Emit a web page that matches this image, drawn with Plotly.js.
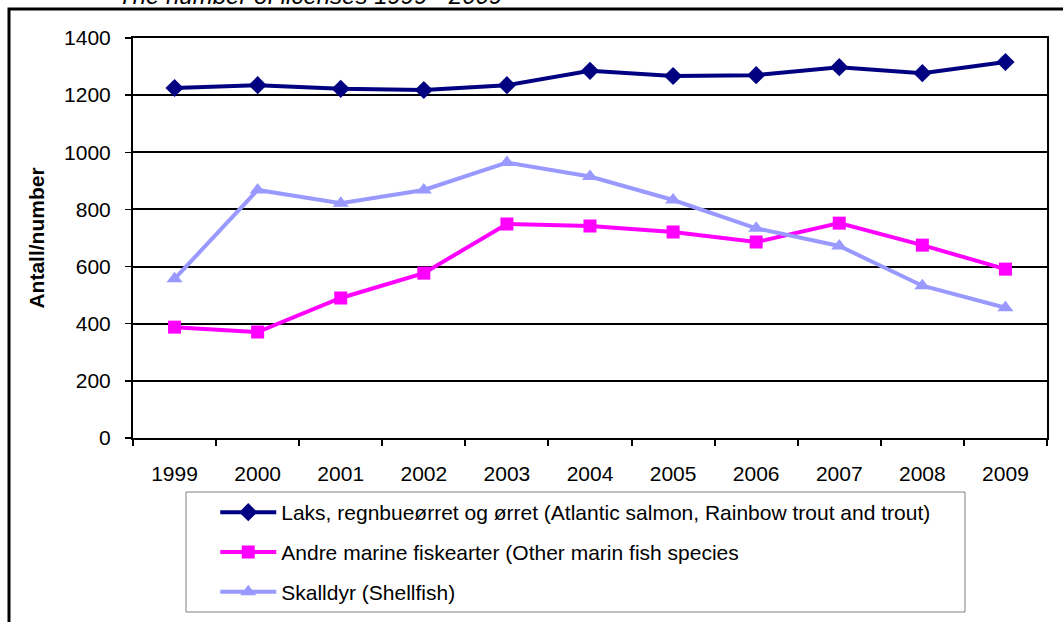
<!DOCTYPE html>
<html>
<head>
<meta charset="utf-8">
<script src="https://cdn.plot.ly/plotly-3.0.1.min.js"></script>
<style>html,body{margin:0;padding:0;background:#fff;}#chart{width:1063px;height:622px;}</style>
</head>
<body>
<div id="chart"></div>
<script>
const years = ["1999","2000","2001","2002","2003","2004","2005","2006","2007","2008","2009"];
const salmon = [1225, 1235, 1222, 1218, 1235, 1285, 1267, 1270, 1298, 1277, 1316];
const marineFish = [388, 371, 490, 577, 749, 742, 721, 686, 752, 675, 591];
const shellfish = [557, 868, 822, 868, 964, 915, 833, 734, 672, 533, 456];
const seriesNames = [
  "Laks, regnbueørret og ørret (Atlantic salmon, Rainbow trout and trout)",
  "Andre marine fiskearter (Other marin fish species",
  "Skalldyr (Shellfish)"
];
const titleText = "The number of licenses 1999 - 2009";
const yTitle = "Antall/number";

const FONT = "Liberation Sans, Arial, sans-serif";
const FS = 21;
const traces = [
  {x: years, y: salmon, name: seriesNames[0], type: "scatter", mode: "lines+markers",
   line: {color: "#000080", width: 4}, marker: {symbol: "diamond", size: 14, color: "#000080"}, legendgroup: "a"},
  {x: years, y: marineFish, name: seriesNames[1], type: "scatter", mode: "lines+markers",
   line: {color: "#FF00FF", width: 4}, marker: {symbol: "square", size: 13, color: "#FF00FF"}, legendgroup: "b"},
  {x: years, y: shellfish, name: seriesNames[2], type: "scatter", mode: "lines+markers",
   line: {color: "#9999FF", width: 4}, marker: {symbol: "triangle-up", size: 14, color: "#9999FF"}, legendgroup: "c"}
];

const layout = {
  width: 1063, height: 622,
  margin: {l: 133, r: 16, t: 38, b: 184, autoexpand: false},
  paper_bgcolor: "#fff", plot_bgcolor: "#fff",
  font: {family: FONT, size: FS, color: "#000"},
  showlegend: true,
  legend: {x: 0.09, y: -0.135, xanchor: "left", yanchor: "top", borderwidth: 0,
           bgcolor: "rgba(0,0,0,0)", font: {family: FONT, size: FS, color: "#000"},
           itemwidth: 56, tracegroupgap: 9.5},
  xaxis: {type: "category", range: [-0.5, 10.5], showgrid: false, zeroline: false,
          showline: true, linecolor: "#000", linewidth: 2, mirror: true,
          ticks: "outside", tickson: "boundaries", ticklen: 6, tickwidth: 2, tickcolor: "#000",
          ticklabelstandoff: 16, tickfont: {family: FONT, size: FS, color: "#000"}},
  yaxis: {range: [0, 1400], dtick: 200, tick0: 0, showgrid: true, gridcolor: "#000", gridwidth: 2,
          zeroline: false, showline: true, linecolor: "#000", linewidth: 2, mirror: true,
          ticks: "outside", ticklen: 6, tickwidth: 1.5, tickcolor: "#000",
          ticklabelstandoff: 10, tickfont: {family: FONT, size: FS, color: "#000"},
          title: {text: "<b>" + yTitle + "</b>", font: {family: FONT, size: FS, color: "#000"}, standoff: 14}},
  shapes: [
    {type: "rect", xref: "paper", yref: "paper",
     x0: (9 - 133) / 914, x1: 1.2, y0: -0.7, y1: (438 - 9) / 400,
     line: {color: "#000", width: 3}, fillcolor: "rgba(0,0,0,0)", layer: "below"},
    {type: "rect", xref: "paper", yref: "paper",
     x0: (186 - 133) / 914, x1: (965 - 133) / 914, y0: (438 - 612) / 400, y1: (438 - 492) / 400,
     line: {color: "#808080", width: 1}, fillcolor: "rgba(0,0,0,0)"}
  ],
  annotations: [
    {text: "<i>" + titleText + "</i>", xref: "paper", yref: "paper",
     x: (310 - 133) / 914, y: (438 - 11) / 400, xanchor: "center", yanchor: "bottom",
     showarrow: false, font: {family: FONT, size: 24, color: "#000"}}
  ]
};

Plotly.newPlot("chart", traces, layout, {displayModeBar: false, staticPlot: true});
</script>
</body>
</html>
